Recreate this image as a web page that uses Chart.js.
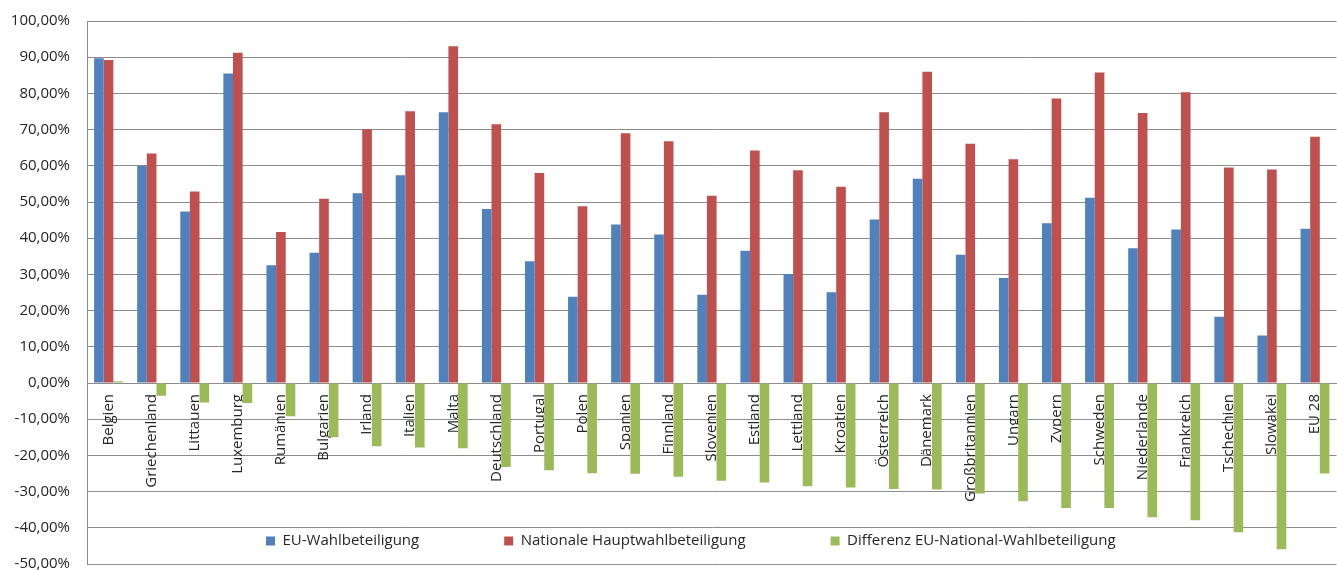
<!DOCTYPE html>
<html>
<head>
<meta charset="utf-8">
<script src="https://cdn.jsdelivr.net/npm/chart.js"></script>
<style>
    html, body { margin: 0; padding: 0; background: #fff; overflow: hidden; }
    #wrap { width: 1344px; height: 570px; }
</style>
</head>
<body>
<div id="wrap"><canvas id="chart" width="1344" height="570"></canvas></div>
<script>
// Wahlbeteiligung EU vs. national (in %)
const countries = ['Belgien', 'Griechenland', 'Littauen', 'Luxemburg', 'Rumänien', 'Bulgarien', 'Irland', 'Italien',
    'Malta', 'Deutschland', 'Portugal', 'Polen', 'Spanien', 'Finnland', 'Slovenien', 'Estland', 'Lettland',
    'Kroatien', 'Österreich', 'Dänemark', 'Großbritannien', 'Ungarn', 'Zypern', 'Schweden', 'Niederlande',
    'Frankreich', 'Tschechien', 'Slowakei', 'EU 28'];

const euTurnout = [89.7, 60.0, 47.4, 85.5, 32.5, 36.0, 52.4, 57.4, 74.8, 48.1, 33.6, 23.8, 43.8, 41.0, 24.4,
    36.5, 30.1, 25.1, 45.2, 56.4, 35.4, 29.0, 44.1, 51.2, 37.2, 42.4, 18.3, 13.1, 42.6];

const nationalTurnout = [89.2, 63.4, 52.9, 91.2, 41.7, 50.9, 70.1, 75.1, 93.0, 71.5, 58.0, 48.8, 69.0, 66.8, 51.7,
    64.2, 58.8, 54.2, 74.8, 86.0, 66.1, 61.8, 78.6, 85.8, 74.6, 80.3, 59.5, 59.0, 68.0];

const difference = [0.5, -3.5, -5.4, -5.5, -9.2, -14.9, -17.5, -17.8, -18.0, -23.2, -24.1, -24.9, -25.1, -25.9,
    -27.0, -27.5, -28.5, -28.9, -29.3, -29.4, -30.5, -32.7, -34.5, -34.5, -37.1, -37.9, -41.2, -45.9, -25.0];

const seriesNames = ['EU-Wahlbeteiligung', 'Nationale Hauptwahlbeteiligung', 'Differenz EU-National-Wahlbeteiligung'];

const yMin = -50;
const yMax = 100;
const yStep = 10;

const FONT = { family: "'Open Sans', sans-serif", size: 15 };
const TEXT = '#262626';
const GRID = '#8c8c8c';

// Legende liegt wie im Excel-Original innerhalb der Zeichenfläche
const legendInPlot = {
    id: 'legendInPlot',
    beforeLayout(chart) {
        const lg = chart.legend;
        if (lg && !lg._patched) {
            const fit = lg.fit;
            lg.fit = function () { fit.call(this); this.height = 0; };
            lg._patched = true;
        }
    },
    afterLayout(chart) {
        const lg = chart.legend;
        if (!lg) return;
        const pad = lg.options.labels.padding;
        lg.left = 266 - pad;
        lg.right = chart.width;
        lg.width = lg.right - lg.left;
        lg.top = 541 - pad - FONT.size / 2;
        lg.bottom = chart.height;
        lg.height = lg.bottom - lg.top;
    }
};

new Chart(document.getElementById('chart'), {
    type: 'bar',
    data: {
        labels: countries,
        datasets: [
            { label: seriesNames[0], data: euTurnout, backgroundColor: '#4F81BD', borderWidth: 0 },
            { label: seriesNames[1], data: nationalTurnout, backgroundColor: '#C0504D', borderWidth: 0 },
            { label: seriesNames[2], data: difference, backgroundColor: '#9BBB59', borderWidth: 0 }
        ]
    },
    options: {
        responsive: false,
        animation: false,
        categoryPercentage: 0.67,
        barPercentage: 1.0,
        layout: { padding: { top: 21, bottom: 6, left: 0, right: 1 } },
        scales: {
            x: {
                position: { y: 0 },
                grid: { display: false, drawTicks: false },
                border: { display: true, color: GRID },
                ticks: {
                    font: FONT,
                    color: TEXT,
                    minRotation: 90,
                    maxRotation: 90,
                    autoSkip: false,
                    padding: 11
                },
                afterFit(scale) {
                    scale.height = 0;
                    scale.paddingTop = 0;
                    scale.paddingBottom = 0;
                }
            },
            y: {
                min: yMin,
                max: yMax,
                grid: { color: GRID, drawTicks: false },
                border: { display: true, color: GRID },
                ticks: {
                    stepSize: yStep,
                    font: FONT,
                    color: TEXT,
                    padding: 17,
                    callback: v => v.toFixed(2).replace('.', ',') + '%'
                },
                afterFit(scale) {
                    scale.width = 87;
                    scale.paddingTop = 0;
                    scale.paddingBottom = 0;
                }
            }
        },
        plugins: {
            legend: {
                position: 'bottom',
                align: 'start',
                labels: {
                    font: FONT,
                    color: TEXT,
                    boxWidth: 9,
                    boxHeight: 9,
                    padding: 85
                }
            },
            tooltip: { enabled: false }
        }
    },
    plugins: [legendInPlot]
});
</script>
</body>
</html>
